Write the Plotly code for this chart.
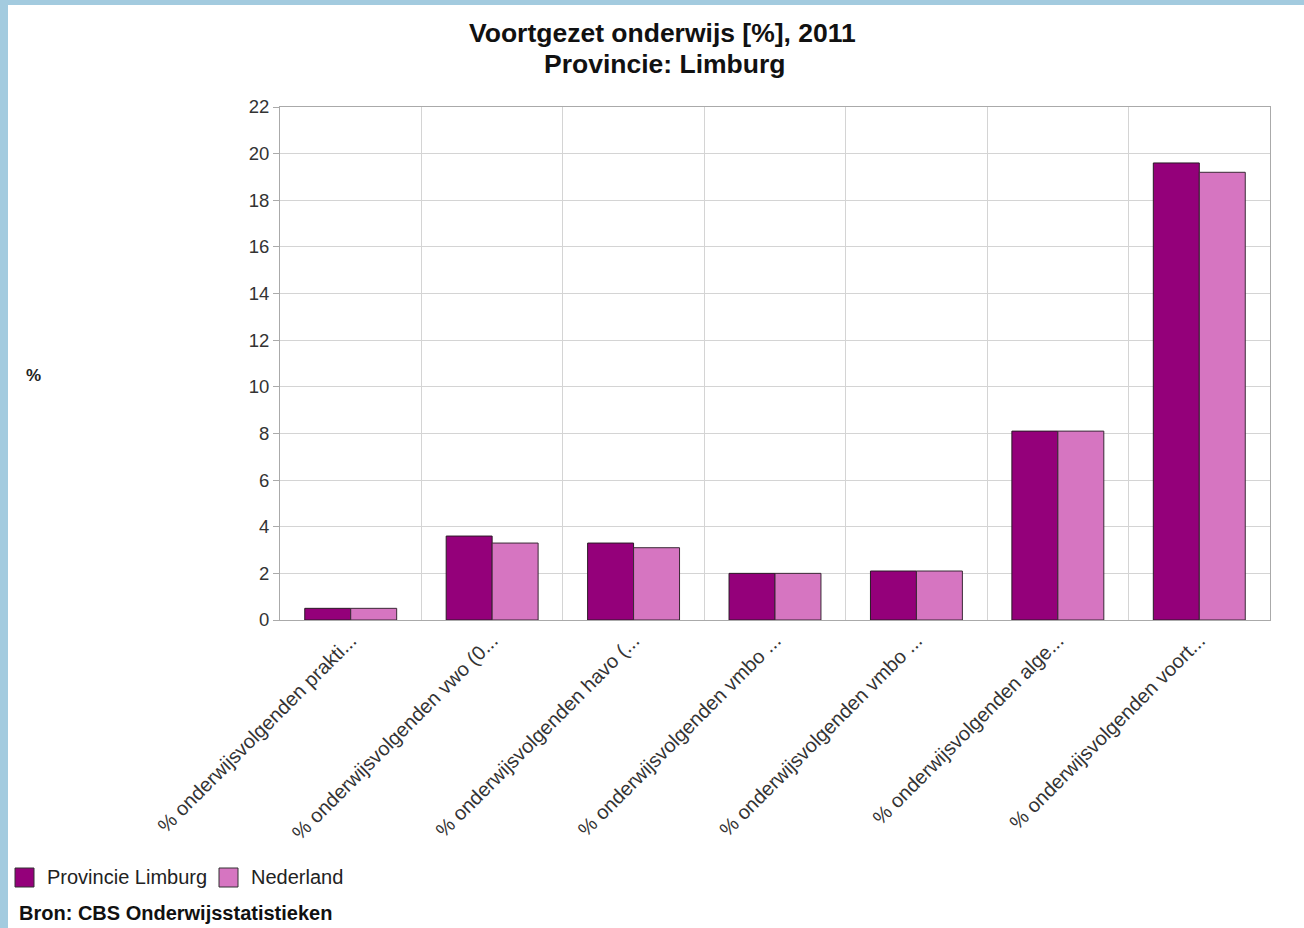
import plotly.graph_objects as go

categories = [
    "% onderwijsvolgenden prakti...",
    "% onderwijsvolgenden vwo (0...",
    "% onderwijsvolgenden havo (...",
    "% onderwijsvolgenden vmbo ...",
    "% onderwijsvolgenden vmbo ...",
    "% onderwijsvolgenden alge...",
    "% onderwijsvolgenden voort...",
]
series_names = ["Provincie Limburg", "Nederland"]
limburg = [0.5, 3.6, 3.3, 2.0, 2.1, 8.1, 19.6]
nederland = [0.5, 3.3, 3.1, 2.0, 2.1, 8.1, 19.2]
y_ticks = list(range(0, 23, 2))

W, H = 1304, 928
L, R, T, B = 280, 1270, 107, 620
FONT = "Liberation Sans, Arial, sans-serif"
C_LIM, C_NED = "#94007A", "#D675C1"

xpos = list(range(len(categories)))

fig = go.Figure()
fig.add_trace(go.Bar(x=xpos, y=limburg, name=series_names[0], showlegend=False,
                     marker=dict(color=C_LIM, line=dict(color="#2a1a26", width=1))))
fig.add_trace(go.Bar(x=xpos, y=nederland, name=series_names[1], showlegend=False,
                     marker=dict(color=C_NED, line=dict(color="#3a2a36", width=1))))


def px_x(p):
    return (p - L) / (R - L)


def px_y(p):
    return (B - p) / (B - T)


shapes = [
    dict(type="rect", xref="paper", yref="paper", x0=px_x(0), x1=px_x(W), y0=px_y(5), y1=px_y(0),
         fillcolor="#A3CBDF", line=dict(width=0), layer="above"),
    dict(type="rect", xref="paper", yref="paper", x0=px_x(0), x1=px_x(8), y0=px_y(H), y1=px_y(0),
         fillcolor="#A3CBDF", line=dict(width=0), layer="above"),
    # legend swatches
    dict(type="rect", xref="paper", yref="paper", x0=px_x(15), x1=px_x(34), y0=px_y(887), y1=px_y(868),
         fillcolor=C_LIM, line=dict(color="#333333", width=1)),
    dict(type="rect", xref="paper", yref="paper", x0=px_x(219), x1=px_x(238), y0=px_y(887), y1=px_y(868),
         fillcolor=C_NED, line=dict(color="#333333", width=1)),
]

annotations = [
    dict(text="<b>Voortgezet onderwijs [%], 2011</b>", xref="paper", yref="paper",
         x=px_x(662), y=px_y(33), xanchor="center", yanchor="middle", showarrow=False,
         font=dict(size=26.5, color="#111111")),
    dict(text="<b>Provincie: Limburg</b>", xref="paper", yref="paper",
         x=px_x(664), y=px_y(64), xanchor="center", yanchor="middle", showarrow=False,
         font=dict(size=26.5, color="#111111")),
    dict(text="<b>%</b>", xref="paper", yref="paper", x=px_x(33), y=px_y(375),
         xanchor="center", yanchor="middle", showarrow=False,
         font=dict(size=17, color="#222222")),
    dict(text=series_names[0], xref="paper", yref="paper", x=px_x(45), y=px_y(877),
         xanchor="left", yanchor="middle", showarrow=False,
         font=dict(size=20, color="#222222")),
    dict(text=series_names[1], xref="paper", yref="paper", x=px_x(249), y=px_y(877),
         xanchor="left", yanchor="middle", showarrow=False,
         font=dict(size=20, color="#222222")),
    dict(text="<b>Bron: CBS Onderwijsstatistieken</b>", xref="paper", yref="paper",
         x=px_x(17), y=px_y(913), xanchor="left", yanchor="middle", showarrow=False,
         font=dict(size=20, color="#111111")),
]

fig.update_layout(
    width=W, height=H,
    margin=dict(l=L, r=W - R, t=T, b=H - B),
    paper_bgcolor="white", plot_bgcolor="white",
    font=dict(family=FONT, size=18, color="#333333"),
    barmode="group", bargap=0.35, bargroupgap=0,
    showlegend=False,
    xaxis=dict(tickmode="array", tickvals=xpos, ticktext=categories, tickangle=-45,
               range=[-0.5, len(categories) - 0.5], showgrid=False,
               showline=True, mirror=True, linecolor="#aaaaaa", linewidth=1,
               ticks="", tickfont=dict(size=20, color="#333333"),
               minor=dict(tick0=0.5, dtick=1, showgrid=True, gridcolor="#d4d4d4", gridwidth=1, ticks="")),
    yaxis=dict(range=[0, 22], tickvals=y_ticks, showgrid=True, gridcolor="#d4d4d4", gridwidth=1,
               showline=True, mirror=True, linecolor="#aaaaaa", linewidth=1,
               ticks="outside", ticklen=6, tickcolor="#aaaaaa", zeroline=False,
               tickfont=dict(size=18.5, color="#333333")),
    shapes=shapes,
    annotations=annotations,
)

fig.write_html("out.html", config={"displayModeBar": False},
               post_script="document.body.style.margin='0';document.body.style.overflow='hidden';")
